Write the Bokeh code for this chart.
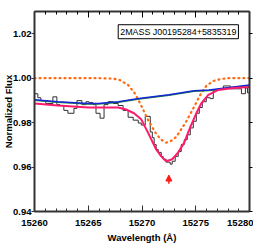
from bokeh.plotting import figure
from bokeh.models import (Range1d, LinearAxis, FixedTicker, PrintfTickFormatter,
                          CustomJSTickFormatter, Label, Arrow, NormalHead)
from bokeh.embed import file_html
from bokeh.resources import INLINE

# ---- data ----
hist_x = [15260.0, 15260.31, 15260.59, 15261.05, 15261.71, 15262.08, 15262.36, 15262.73,
          15263.11, 15263.67, 15263.95, 15264.41, 15264.79, 15265.07, 15265.44, 15265.72,
          15266.10, 15266.47, 15266.84, 15267.31, 15267.78, 15268.24, 15268.71, 15269.18,
          15269.65, 15269.93, 15270.30, 15270.77, 15270.96, 15271.13, 15271.32, 15271.51,
          15271.79, 15271.97, 15272.25, 15272.62, 15272.81, 15273.09, 15273.37, 15273.65,
          15273.93, 15274.21, 15274.49, 15274.77, 15275.05, 15275.33, 15275.61, 15275.98,
          15276.35, 15276.63, 15277.10, 15277.57, 15278.22, 15278.69, 15279.25, 15279.62,
          15279.81, 15280.0]
hist_y = [0.9930, 0.9912, 0.9899, 0.9886, 0.9916, 0.9881, 0.9877, 0.9855,
          0.9842, 0.9864, 0.9899, 0.9881, 0.9894, 0.9890, 0.9881, 0.9842,
          0.9820, 0.9881, 0.9894, 0.9886, 0.9877, 0.9855, 0.9824, 0.9811,
          0.9798, 0.9789, 0.9828, 0.9758, 0.9732, 0.9701, 0.9679, 0.9666,
          0.9648, 0.9635, 0.9622, 0.9613, 0.9626, 0.9648, 0.9670, 0.9701,
          0.9723, 0.9745, 0.9776, 0.9806, 0.9842, 0.9868, 0.9894, 0.9912,
          0.9908, 0.9947, 0.9952, 0.9965, 0.9952, 0.9952, 0.9930, 0.9956,
          0.9934, 0.9934]

cont_x = [15260.0, 15262.17, 15265.01, 15265.94, 15267.81, 15269.71, 15272.51,
          15274.84, 15276.24, 15278.11, 15280.0]
cont_blue = [0.9903, 0.9894, 0.9886, 0.9886, 0.9894, 0.9908, 0.9925,
             0.9943, 0.9947, 0.9958, 0.9969]
cont_green = [0.9901, 0.9892, 0.9884, 0.9884, 0.9892, 0.9906, 0.9923,
              0.9941, 0.9945, 0.9956, 0.9967]

fit_x = [15260.0, 15262.17, 15264.97, 15267.77, 15268.52, 15269.26, 15269.92, 15270.57,
         15271.32, 15271.79, 15272.25, 15272.81, 15273.37, 15273.93, 15274.49, 15275.05,
         15275.51, 15276.17, 15277.10, 15278.50, 15280.0]
fit_y = [0.9886, 0.9877, 0.9868, 0.9868, 0.9859, 0.9842, 0.9815, 0.9754,
         0.9679, 0.9648, 0.9626, 0.9635, 0.9666, 0.9710, 0.9780, 0.9842,
         0.9886, 0.9925, 0.9947, 0.9956, 0.9960]

model_x = [15260.0, 15265.90, 15267.30, 15267.96, 15268.71, 15269.36, 15269.92, 15270.57,
           15271.32, 15271.79, 15272.25, 15272.72, 15273.19, 15274.03, 15274.77, 15275.42,
           15275.98, 15276.63, 15277.29, 15278.03, 15280.0]
model_y = [1.0000, 1.0000, 0.9998, 0.9991, 0.9969, 0.9930, 0.9877, 0.9811,
           0.9749, 0.9723, 0.9710, 0.9718, 0.9736, 0.9798, 0.9864, 0.9925,
           0.9965, 0.9987, 0.9996, 1.0000, 1.0000]

arrow_x = 15272.5
arrow_y0 = 0.9525
arrow_y1 = 0.9564

star_name = "2MASS J00195284+5835319"
label_x = 15278.97
label_y = 1.0209

x_major = [15260, 15265, 15270, 15275, 15280]
x_minor = [15260 + i for i in range(21)]
y_major = [0.94, 0.96, 0.98, 1.00, 1.02]

FONT = "Liberation Sans"
FS = "9.5px"

p = figure(frame_width=215, frame_height=200, output_backend="svg", toolbar_location=None,
           x_range=Range1d(15260, 15280), y_range=Range1d(0.94, 1.03),
           min_border_left=0, min_border_right=4, min_border_top=11, min_border_bottom=0,
           x_axis_label="Wavelength (Å)", y_axis_label="Normalized Flux")
p.grid.visible = False
p.outline_line_color = None
p.background_fill_color = "white"

xa = p.xaxis[0]
xa.ticker = FixedTicker(ticks=x_major, minor_ticks=x_minor)
xa.major_tick_in = 6
xa.major_tick_out = 0
xa.minor_tick_in = 3
xa.minor_tick_out = 0
xa.major_label_standoff = 8

ya = p.yaxis[0]
ya.ticker = FixedTicker(ticks=y_major, minor_ticks=[])
ya.formatter = PrintfTickFormatter(format="%.2f")
ya.major_tick_in = 0
ya.major_tick_out = 3
ya.major_label_standoff = 0
ya.axis_label_standoff = -4

for ax in (xa, ya):
    ax.axis_line_width = 2
    ax.axis_line_color = "#333333"
    ax.major_tick_line_color = "#333333"
    ax.minor_tick_line_color = "#333333"
    ax.major_label_text_font = FONT
    ax.major_label_text_font_style = "bold"
    ax.major_label_text_font_size = FS
    ax.major_label_text_color = "black"
    ax.axis_label_text_font = FONT
    ax.axis_label_text_font_style = "bold"
    ax.axis_label_text_font_size = FS
    ax.axis_label_text_color = "black"
xa.axis_label_standoff = 3

blank = CustomJSTickFormatter(code="return ''")
top = LinearAxis(ticker=FixedTicker(ticks=x_major, minor_ticks=x_minor), formatter=blank,
                 major_tick_in=6, major_tick_out=0, minor_tick_in=3, minor_tick_out=0,
                 major_label_text_font_size="0px", major_label_standoff=0,
                 axis_line_width=2, axis_line_color="#333333")
p.add_layout(top, "above")
right = LinearAxis(ticker=FixedTicker(ticks=y_major, minor_ticks=[]), formatter=blank,
                   major_tick_in=0, major_tick_out=3,
                   major_label_text_font_size="0px", major_label_standoff=0,
                   axis_line_width=2, axis_line_color="#333333")
p.add_layout(right, "right")

p.step(hist_x, hist_y, mode="after", line_color="#303030", line_width=1)
p.line(model_x, model_y, line_color="#ff6a13", line_width=2.2, line_dash="1 4",
       line_cap="round")
p.line(cont_x, cont_green, line_color="#1d8a2a", line_width=1.5)
p.line(cont_x, cont_blue, line_color="#1426d6", line_width=1.5)
p.line(fit_x, fit_y, line_color="#ff1a6e", line_width=2)

p.add_layout(Arrow(x_start=arrow_x, y_start=arrow_y0, x_end=arrow_x, y_end=arrow_y1,
                   line_color="#ff1a1a", line_width=1.5,
                   end=NormalHead(size=6, fill_color="#ff1a1a", line_color="#ff1a1a")))

p.add_layout(Label(x=label_x, y=label_y, text=star_name, text_align="right",
                   text_baseline="middle", text_font=FONT, text_font_size="8.9px",
                   text_color="black", border_line_color="black", border_line_width=1,
                   background_fill_color="white", padding=2))

open("out.html", "w").write(file_html(p, INLINE))
